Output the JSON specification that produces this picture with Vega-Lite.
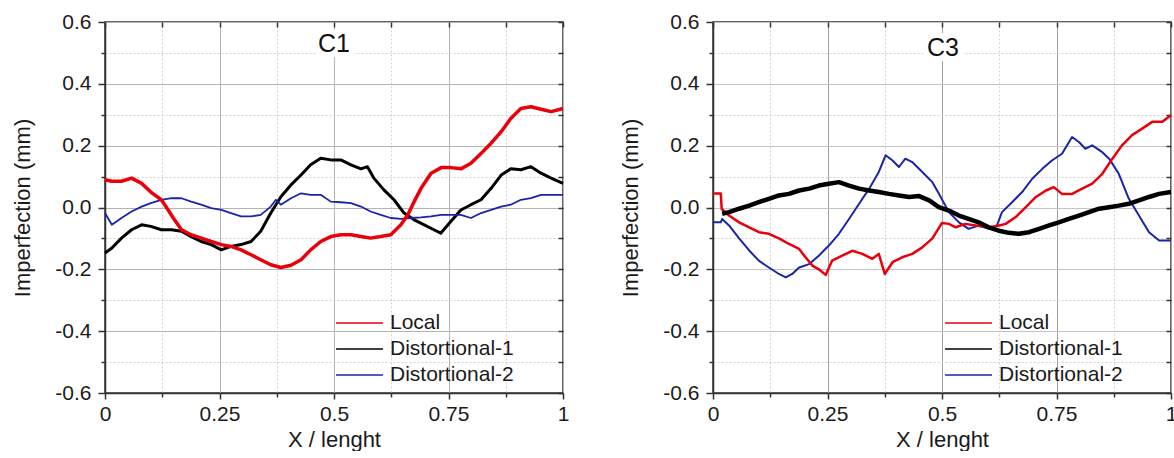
{
  "$schema": "https://vega.github.io/schema/vega-lite/v6.json",
  "background": "white",
  "padding": {"left": 11, "top": 10, "right": 0, "bottom": 0},
  "spacing": 150,
  "bounds": "flush",
  "datasets": {
    "c1": [
      {"x": 0, "y": 0.09, "s": "Local"}, {"x": 0.015, "y": 0.085, "s": "Local"}, {"x": 0.036, "y": 0.085, "s": "Local"}, {"x": 0.058, "y": 0.095, "s": "Local"}, {"x": 0.08, "y": 0.078, "s": "Local"}, {"x": 0.1, "y": 0.05, "s": "Local"}, {"x": 0.123, "y": 0.025, "s": "Local"}, {"x": 0.138, "y": -0.008, "s": "Local"}, {"x": 0.149, "y": -0.034, "s": "Local"}, {"x": 0.167, "y": -0.072, "s": "Local"}, {"x": 0.188, "y": -0.088, "s": "Local"}, {"x": 0.21, "y": -0.099, "s": "Local"}, {"x": 0.232, "y": -0.11, "s": "Local"}, {"x": 0.254, "y": -0.12, "s": "Local"}, {"x": 0.275, "y": -0.126, "s": "Local"}, {"x": 0.297, "y": -0.137, "s": "Local"}, {"x": 0.319, "y": -0.153, "s": "Local"}, {"x": 0.34, "y": -0.169, "s": "Local"}, {"x": 0.362, "y": -0.185, "s": "Local"}, {"x": 0.384, "y": -0.194, "s": "Local"}, {"x": 0.406, "y": -0.187, "s": "Local"}, {"x": 0.428, "y": -0.169, "s": "Local"}, {"x": 0.449, "y": -0.137, "s": "Local"}, {"x": 0.471, "y": -0.11, "s": "Local"}, {"x": 0.493, "y": -0.094, "s": "Local"}, {"x": 0.515, "y": -0.088, "s": "Local"}, {"x": 0.537, "y": -0.088, "s": "Local"}, {"x": 0.559, "y": -0.094, "s": "Local"}, {"x": 0.58, "y": -0.099, "s": "Local"}, {"x": 0.602, "y": -0.094, "s": "Local"}, {"x": 0.624, "y": -0.088, "s": "Local"}, {"x": 0.646, "y": -0.056, "s": "Local"}, {"x": 0.661, "y": -0.024, "s": "Local"}, {"x": 0.675, "y": 0.019, "s": "Local"}, {"x": 0.69, "y": 0.062, "s": "Local"}, {"x": 0.712, "y": 0.111, "s": "Local"}, {"x": 0.734, "y": 0.129, "s": "Local"}, {"x": 0.755, "y": 0.129, "s": "Local"}, {"x": 0.777, "y": 0.125, "s": "Local"}, {"x": 0.799, "y": 0.143, "s": "Local"}, {"x": 0.821, "y": 0.175, "s": "Local"}, {"x": 0.843, "y": 0.208, "s": "Local"}, {"x": 0.865, "y": 0.245, "s": "Local"}, {"x": 0.886, "y": 0.288, "s": "Local"}, {"x": 0.908, "y": 0.32, "s": "Local"}, {"x": 0.93, "y": 0.326, "s": "Local"}, {"x": 0.952, "y": 0.318, "s": "Local"}, {"x": 0.974, "y": 0.31, "s": "Local"}, {"x": 1.0, "y": 0.32, "s": "Local"},
      {"x": 0, "y": -0.147, "s": "Distortional-1"}, {"x": 0.015, "y": -0.131, "s": "Distortional-1"}, {"x": 0.036, "y": -0.099, "s": "Distortional-1"}, {"x": 0.058, "y": -0.072, "s": "Distortional-1"}, {"x": 0.08, "y": -0.056, "s": "Distortional-1"}, {"x": 0.1, "y": -0.061, "s": "Distortional-1"}, {"x": 0.123, "y": -0.072, "s": "Distortional-1"}, {"x": 0.145, "y": -0.072, "s": "Distortional-1"}, {"x": 0.167, "y": -0.077, "s": "Distortional-1"}, {"x": 0.188, "y": -0.094, "s": "Distortional-1"}, {"x": 0.21, "y": -0.11, "s": "Distortional-1"}, {"x": 0.232, "y": -0.12, "s": "Distortional-1"}, {"x": 0.254, "y": -0.137, "s": "Distortional-1"}, {"x": 0.275, "y": -0.126, "s": "Distortional-1"}, {"x": 0.297, "y": -0.12, "s": "Distortional-1"}, {"x": 0.319, "y": -0.11, "s": "Distortional-1"}, {"x": 0.34, "y": -0.077, "s": "Distortional-1"}, {"x": 0.362, "y": -0.018, "s": "Distortional-1"}, {"x": 0.384, "y": 0.035, "s": "Distortional-1"}, {"x": 0.406, "y": 0.073, "s": "Distortional-1"}, {"x": 0.428, "y": 0.105, "s": "Distortional-1"}, {"x": 0.449, "y": 0.138, "s": "Distortional-1"}, {"x": 0.471, "y": 0.159, "s": "Distortional-1"}, {"x": 0.493, "y": 0.154, "s": "Distortional-1"}, {"x": 0.515, "y": 0.154, "s": "Distortional-1"}, {"x": 0.537, "y": 0.138, "s": "Distortional-1"}, {"x": 0.559, "y": 0.125, "s": "Distortional-1"}, {"x": 0.573, "y": 0.132, "s": "Distortional-1"}, {"x": 0.587, "y": 0.095, "s": "Distortional-1"}, {"x": 0.609, "y": 0.057, "s": "Distortional-1"}, {"x": 0.631, "y": 0.025, "s": "Distortional-1"}, {"x": 0.653, "y": -0.018, "s": "Distortional-1"}, {"x": 0.675, "y": -0.04, "s": "Distortional-1"}, {"x": 0.697, "y": -0.056, "s": "Distortional-1"}, {"x": 0.718, "y": -0.072, "s": "Distortional-1"}, {"x": 0.733, "y": -0.083, "s": "Distortional-1"}, {"x": 0.755, "y": -0.045, "s": "Distortional-1"}, {"x": 0.777, "y": -0.008, "s": "Distortional-1"}, {"x": 0.799, "y": 0.009, "s": "Distortional-1"}, {"x": 0.821, "y": 0.025, "s": "Distortional-1"}, {"x": 0.843, "y": 0.062, "s": "Distortional-1"}, {"x": 0.865, "y": 0.105, "s": "Distortional-1"}, {"x": 0.886, "y": 0.125, "s": "Distortional-1"}, {"x": 0.908, "y": 0.122, "s": "Distortional-1"}, {"x": 0.93, "y": 0.132, "s": "Distortional-1"}, {"x": 0.952, "y": 0.111, "s": "Distortional-1"}, {"x": 0.974, "y": 0.095, "s": "Distortional-1"}, {"x": 1.0, "y": 0.078, "s": "Distortional-1"},
      {"x": 0, "y": -0.018, "s": "Distortional-2"}, {"x": 0.015, "y": -0.056, "s": "Distortional-2"}, {"x": 0.036, "y": -0.034, "s": "Distortional-2"}, {"x": 0.058, "y": -0.013, "s": "Distortional-2"}, {"x": 0.08, "y": 0.003, "s": "Distortional-2"}, {"x": 0.1, "y": 0.014, "s": "Distortional-2"}, {"x": 0.123, "y": 0.025, "s": "Distortional-2"}, {"x": 0.145, "y": 0.03, "s": "Distortional-2"}, {"x": 0.167, "y": 0.03, "s": "Distortional-2"}, {"x": 0.188, "y": 0.019, "s": "Distortional-2"}, {"x": 0.21, "y": 0.009, "s": "Distortional-2"}, {"x": 0.232, "y": -0.002, "s": "Distortional-2"}, {"x": 0.254, "y": -0.008, "s": "Distortional-2"}, {"x": 0.275, "y": -0.018, "s": "Distortional-2"}, {"x": 0.297, "y": -0.029, "s": "Distortional-2"}, {"x": 0.319, "y": -0.029, "s": "Distortional-2"}, {"x": 0.34, "y": -0.024, "s": "Distortional-2"}, {"x": 0.362, "y": 0.003, "s": "Distortional-2"}, {"x": 0.373, "y": 0.025, "s": "Distortional-2"}, {"x": 0.384, "y": 0.009, "s": "Distortional-2"}, {"x": 0.406, "y": 0.03, "s": "Distortional-2"}, {"x": 0.428, "y": 0.046, "s": "Distortional-2"}, {"x": 0.449, "y": 0.041, "s": "Distortional-2"}, {"x": 0.471, "y": 0.041, "s": "Distortional-2"}, {"x": 0.493, "y": 0.019, "s": "Distortional-2"}, {"x": 0.515, "y": 0.017, "s": "Distortional-2"}, {"x": 0.537, "y": 0.014, "s": "Distortional-2"}, {"x": 0.559, "y": 0.003, "s": "Distortional-2"}, {"x": 0.58, "y": -0.013, "s": "Distortional-2"}, {"x": 0.602, "y": -0.024, "s": "Distortional-2"}, {"x": 0.624, "y": -0.034, "s": "Distortional-2"}, {"x": 0.646, "y": -0.037, "s": "Distortional-2"}, {"x": 0.668, "y": -0.034, "s": "Distortional-2"}, {"x": 0.69, "y": -0.032, "s": "Distortional-2"}, {"x": 0.712, "y": -0.029, "s": "Distortional-2"}, {"x": 0.734, "y": -0.024, "s": "Distortional-2"}, {"x": 0.755, "y": -0.024, "s": "Distortional-2"}, {"x": 0.777, "y": -0.024, "s": "Distortional-2"}, {"x": 0.799, "y": -0.034, "s": "Distortional-2"}, {"x": 0.821, "y": -0.018, "s": "Distortional-2"}, {"x": 0.843, "y": -0.008, "s": "Distortional-2"}, {"x": 0.865, "y": 0.003, "s": "Distortional-2"}, {"x": 0.886, "y": 0.009, "s": "Distortional-2"}, {"x": 0.908, "y": 0.025, "s": "Distortional-2"}, {"x": 0.93, "y": 0.03, "s": "Distortional-2"}, {"x": 0.952, "y": 0.041, "s": "Distortional-2"}, {"x": 0.974, "y": 0.041, "s": "Distortional-2"}, {"x": 1.0, "y": 0.041, "s": "Distortional-2"}
    ],
    "c3": [
      {"x": 0, "y": 0.045, "s": "Local"}, {"x": 0.017, "y": 0.045, "s": "Local"}, {"x": 0.019, "y": -0.005, "s": "Local"}, {"x": 0.035, "y": -0.026, "s": "Local"}, {"x": 0.057, "y": -0.048, "s": "Local"}, {"x": 0.079, "y": -0.064, "s": "Local"}, {"x": 0.1, "y": -0.08, "s": "Local"}, {"x": 0.122, "y": -0.085, "s": "Local"}, {"x": 0.144, "y": -0.1, "s": "Local"}, {"x": 0.166, "y": -0.118, "s": "Local"}, {"x": 0.188, "y": -0.134, "s": "Local"}, {"x": 0.202, "y": -0.161, "s": "Local"}, {"x": 0.217, "y": -0.188, "s": "Local"}, {"x": 0.231, "y": -0.2, "s": "Local"}, {"x": 0.246, "y": -0.218, "s": "Local"}, {"x": 0.26, "y": -0.172, "s": "Local"}, {"x": 0.282, "y": -0.156, "s": "Local"}, {"x": 0.304, "y": -0.14, "s": "Local"}, {"x": 0.326, "y": -0.15, "s": "Local"}, {"x": 0.348, "y": -0.166, "s": "Local"}, {"x": 0.362, "y": -0.15, "s": "Local"}, {"x": 0.375, "y": -0.215, "s": "Local"}, {"x": 0.392, "y": -0.177, "s": "Local"}, {"x": 0.413, "y": -0.161, "s": "Local"}, {"x": 0.435, "y": -0.15, "s": "Local"}, {"x": 0.457, "y": -0.129, "s": "Local"}, {"x": 0.479, "y": -0.1, "s": "Local"}, {"x": 0.5, "y": -0.05, "s": "Local"}, {"x": 0.515, "y": -0.053, "s": "Local"}, {"x": 0.53, "y": -0.064, "s": "Local"}, {"x": 0.551, "y": -0.053, "s": "Local"}, {"x": 0.573, "y": -0.058, "s": "Local"}, {"x": 0.602, "y": -0.064, "s": "Local"}, {"x": 0.62, "y": -0.06, "s": "Local"}, {"x": 0.639, "y": -0.053, "s": "Local"}, {"x": 0.661, "y": -0.031, "s": "Local"}, {"x": 0.683, "y": 0.001, "s": "Local"}, {"x": 0.705, "y": 0.034, "s": "Local"}, {"x": 0.727, "y": 0.055, "s": "Local"}, {"x": 0.744, "y": 0.066, "s": "Local"}, {"x": 0.762, "y": 0.044, "s": "Local"}, {"x": 0.784, "y": 0.044, "s": "Local"}, {"x": 0.806, "y": 0.061, "s": "Local"}, {"x": 0.828, "y": 0.077, "s": "Local"}, {"x": 0.85, "y": 0.109, "s": "Local"}, {"x": 0.872, "y": 0.158, "s": "Local"}, {"x": 0.893, "y": 0.201, "s": "Local"}, {"x": 0.915, "y": 0.234, "s": "Local"}, {"x": 0.937, "y": 0.255, "s": "Local"}, {"x": 0.959, "y": 0.277, "s": "Local"}, {"x": 0.981, "y": 0.277, "s": "Local"}, {"x": 1.0, "y": 0.298, "s": "Local"},
      {"x": 0.02, "y": -0.02, "s": "Distortional-1"}, {"x": 0.035, "y": -0.015, "s": "Distortional-1"}, {"x": 0.057, "y": -0.004, "s": "Distortional-1"}, {"x": 0.079, "y": 0.006, "s": "Distortional-1"}, {"x": 0.1, "y": 0.017, "s": "Distortional-1"}, {"x": 0.122, "y": 0.028, "s": "Distortional-1"}, {"x": 0.144, "y": 0.039, "s": "Distortional-1"}, {"x": 0.166, "y": 0.044, "s": "Distortional-1"}, {"x": 0.188, "y": 0.055, "s": "Distortional-1"}, {"x": 0.21, "y": 0.061, "s": "Distortional-1"}, {"x": 0.231, "y": 0.071, "s": "Distortional-1"}, {"x": 0.253, "y": 0.077, "s": "Distortional-1"}, {"x": 0.275, "y": 0.082, "s": "Distortional-1"}, {"x": 0.297, "y": 0.071, "s": "Distortional-1"}, {"x": 0.319, "y": 0.061, "s": "Distortional-1"}, {"x": 0.341, "y": 0.055, "s": "Distortional-1"}, {"x": 0.362, "y": 0.05, "s": "Distortional-1"}, {"x": 0.384, "y": 0.044, "s": "Distortional-1"}, {"x": 0.406, "y": 0.039, "s": "Distortional-1"}, {"x": 0.428, "y": 0.034, "s": "Distortional-1"}, {"x": 0.45, "y": 0.037, "s": "Distortional-1"}, {"x": 0.472, "y": 0.023, "s": "Distortional-1"}, {"x": 0.493, "y": 0.001, "s": "Distortional-1"}, {"x": 0.515, "y": -0.01, "s": "Distortional-1"}, {"x": 0.537, "y": -0.026, "s": "Distortional-1"}, {"x": 0.558, "y": -0.037, "s": "Distortional-1"}, {"x": 0.58, "y": -0.048, "s": "Distortional-1"}, {"x": 0.602, "y": -0.064, "s": "Distortional-1"}, {"x": 0.624, "y": -0.075, "s": "Distortional-1"}, {"x": 0.646, "y": -0.082, "s": "Distortional-1"}, {"x": 0.668, "y": -0.085, "s": "Distortional-1"}, {"x": 0.69, "y": -0.08, "s": "Distortional-1"}, {"x": 0.712, "y": -0.069, "s": "Distortional-1"}, {"x": 0.734, "y": -0.058, "s": "Distortional-1"}, {"x": 0.755, "y": -0.048, "s": "Distortional-1"}, {"x": 0.777, "y": -0.037, "s": "Distortional-1"}, {"x": 0.799, "y": -0.026, "s": "Distortional-1"}, {"x": 0.821, "y": -0.015, "s": "Distortional-1"}, {"x": 0.843, "y": -0.004, "s": "Distortional-1"}, {"x": 0.865, "y": 0.001, "s": "Distortional-1"}, {"x": 0.886, "y": 0.006, "s": "Distortional-1"}, {"x": 0.908, "y": 0.012, "s": "Distortional-1"}, {"x": 0.93, "y": 0.023, "s": "Distortional-1"}, {"x": 0.952, "y": 0.034, "s": "Distortional-1"}, {"x": 0.974, "y": 0.044, "s": "Distortional-1"}, {"x": 1.0, "y": 0.05, "s": "Distortional-1"},
      {"x": 0, "y": -0.048, "s": "Distortional-2"}, {"x": 0.017, "y": -0.048, "s": "Distortional-2"}, {"x": 0.02, "y": -0.037, "s": "Distortional-2"}, {"x": 0.035, "y": -0.058, "s": "Distortional-2"}, {"x": 0.057, "y": -0.1, "s": "Distortional-2"}, {"x": 0.079, "y": -0.139, "s": "Distortional-2"}, {"x": 0.1, "y": -0.172, "s": "Distortional-2"}, {"x": 0.122, "y": -0.194, "s": "Distortional-2"}, {"x": 0.144, "y": -0.215, "s": "Distortional-2"}, {"x": 0.159, "y": -0.226, "s": "Distortional-2"}, {"x": 0.173, "y": -0.215, "s": "Distortional-2"}, {"x": 0.188, "y": -0.194, "s": "Distortional-2"}, {"x": 0.21, "y": -0.183, "s": "Distortional-2"}, {"x": 0.231, "y": -0.156, "s": "Distortional-2"}, {"x": 0.253, "y": -0.123, "s": "Distortional-2"}, {"x": 0.275, "y": -0.085, "s": "Distortional-2"}, {"x": 0.297, "y": -0.037, "s": "Distortional-2"}, {"x": 0.319, "y": 0.012, "s": "Distortional-2"}, {"x": 0.341, "y": 0.061, "s": "Distortional-2"}, {"x": 0.362, "y": 0.115, "s": "Distortional-2"}, {"x": 0.377, "y": 0.169, "s": "Distortional-2"}, {"x": 0.392, "y": 0.152, "s": "Distortional-2"}, {"x": 0.406, "y": 0.131, "s": "Distortional-2"}, {"x": 0.42, "y": 0.158, "s": "Distortional-2"}, {"x": 0.435, "y": 0.147, "s": "Distortional-2"}, {"x": 0.457, "y": 0.115, "s": "Distortional-2"}, {"x": 0.479, "y": 0.082, "s": "Distortional-2"}, {"x": 0.493, "y": 0.045, "s": "Distortional-2"}, {"x": 0.515, "y": -0.015, "s": "Distortional-2"}, {"x": 0.537, "y": -0.048, "s": "Distortional-2"}, {"x": 0.558, "y": -0.069, "s": "Distortional-2"}, {"x": 0.58, "y": -0.058, "s": "Distortional-2"}, {"x": 0.602, "y": -0.069, "s": "Distortional-2"}, {"x": 0.62, "y": -0.058, "s": "Distortional-2"}, {"x": 0.631, "y": -0.015, "s": "Distortional-2"}, {"x": 0.653, "y": 0.017, "s": "Distortional-2"}, {"x": 0.675, "y": 0.05, "s": "Distortional-2"}, {"x": 0.697, "y": 0.093, "s": "Distortional-2"}, {"x": 0.719, "y": 0.125, "s": "Distortional-2"}, {"x": 0.74, "y": 0.152, "s": "Distortional-2"}, {"x": 0.762, "y": 0.174, "s": "Distortional-2"}, {"x": 0.784, "y": 0.228, "s": "Distortional-2"}, {"x": 0.799, "y": 0.212, "s": "Distortional-2"}, {"x": 0.813, "y": 0.19, "s": "Distortional-2"}, {"x": 0.828, "y": 0.201, "s": "Distortional-2"}, {"x": 0.85, "y": 0.179, "s": "Distortional-2"}, {"x": 0.865, "y": 0.158, "s": "Distortional-2"}, {"x": 0.886, "y": 0.109, "s": "Distortional-2"}, {"x": 0.908, "y": 0.028, "s": "Distortional-2"}, {"x": 0.93, "y": -0.026, "s": "Distortional-2"}, {"x": 0.952, "y": -0.08, "s": "Distortional-2"}, {"x": 0.974, "y": -0.107, "s": "Distortional-2"}, {"x": 1.0, "y": -0.107, "s": "Distortional-2"}
    ],
    "t1": [{"x": 0.5, "y": 0.53, "label": "C1"}],
    "t3": [{"x": 0.502, "y": 0.515, "label": "C3"}]
  },
  "hconcat": [
    {
      "width": 458,
      "height": 371,
      "layer": [
        {
          "data": {"name": "c1"},
          "transform": [{"filter": "datum.s == 'Distortional-1'"}],
          "mark": {"type": "line", "strokeJoin": "round", "strokeWidth": 3},
          "encoding": {
            "x": {"field": "x", "type": "quantitative", "scale": {"domain": [0, 1], "nice": false, "zero": false},
              "axis": {"values": [0, 0.125, 0.25, 0.375, 0.5, 0.625, 0.75, 0.875, 1], "labelExpr": "round(datum.value*8) % 2 == 1 ? '' : toString(datum.value)", "title": "X / lenght", "grid": true,
                "gridDash": {"condition": {"test": "round(datum.value*8) % 2 == 1", "value": [2, 2]}, "value": []},
                "gridColor": {"condition": {"test": "round(datum.value*8) % 2 == 1", "value": "#d2d2d2"}, "value": "#b4b4b4"},
                "tickSize": {"condition": {"test": "round(datum.value*8) % 2 == 1", "value": 4}, "value": 6},
                "labelPadding": 4, "titlePadding": 5}},
            "y": {"field": "y", "type": "quantitative", "scale": {"domain": [-0.6, 0.6], "nice": false, "zero": false},
              "axis": {"values": [-0.6, -0.5, -0.4, -0.3, -0.2, -0.1, 0, 0.1, 0.2, 0.3, 0.4, 0.5, 0.6], "labelExpr": "abs(round(datum.value*10)) % 2 == 1 ? '' : (datum.value == 0 ? '0.0' : toString(datum.value))", "title": "Imperfection (mm)", "grid": true,
                "gridDash": {"condition": {"test": "abs(round(datum.value*10)) % 2 == 1", "value": [2, 2]}, "value": []},
                "gridColor": {"condition": {"test": "abs(round(datum.value*10)) % 2 == 1", "value": "#d2d2d2"}, "value": "#b4b4b4"},
                "tickSize": {"condition": {"test": "abs(round(datum.value*10)) % 2 == 1", "value": 4}, "value": 7},
                "labelPadding": 7, "titlePadding": 20}},
            "color": {"field": "s", "type": "nominal", "scale": {"domain": ["Local", "Distortional-1", "Distortional-2"], "range": ["#e8000b", "#000000", "#1a24a8"]},
              "legend": {"orient": "none", "legendX": 230, "legendY": 288, "title": null, "symbolType": "stroke", "symbolSize": 2200, "symbolStrokeWidth": 1.5, "labelFontSize": 21, "labelOffset": 6, "rowPadding": 0, "clipHeight": 26, "padding": 0, "encode": {"symbols": {"update": {"strokeWidth": {"value": 1.5}}}}}}
          }
        },
        {
          "data": {"name": "c1"},
          "transform": [{"filter": "datum.s == 'Distortional-2'"}],
          "mark": {"type": "line", "strokeJoin": "round", "strokeWidth": 1.8},
          "encoding": {
            "x": {"field": "x", "type": "quantitative", "axis": null},
            "y": {"field": "y", "type": "quantitative", "axis": null},
            "color": {"field": "s", "type": "nominal", "scale": {"domain": ["Local", "Distortional-1", "Distortional-2"], "range": ["#e8000b", "#000000", "#1a24a8"]},
              "legend": {"orient": "none", "legendX": 230, "legendY": 288, "title": null, "symbolType": "stroke", "symbolSize": 2200, "symbolStrokeWidth": 1.5, "labelFontSize": 21, "labelOffset": 6, "rowPadding": 0, "clipHeight": 26, "padding": 0, "encode": {"symbols": {"update": {"strokeWidth": {"value": 1.5}}}}}}
          }
        },
        {
          "data": {"name": "c1"},
          "transform": [{"filter": "datum.s == 'Local'"}],
          "mark": {"type": "line", "strokeJoin": "round", "strokeWidth": 3.5},
          "encoding": {
            "x": {"field": "x", "type": "quantitative", "axis": null},
            "y": {"field": "y", "type": "quantitative", "axis": null},
            "color": {"field": "s", "type": "nominal", "scale": {"domain": ["Local", "Distortional-1", "Distortional-2"], "range": ["#e8000b", "#000000", "#1a24a8"]},
              "legend": {"orient": "none", "legendX": 230, "legendY": 288, "title": null, "symbolType": "stroke", "symbolSize": 2200, "symbolStrokeWidth": 1.5, "labelFontSize": 21, "labelOffset": 6, "rowPadding": 0, "clipHeight": 26, "padding": 0, "encode": {"symbols": {"update": {"strokeWidth": {"value": 1.5}}}}}}
          }
        },
        {
          "data": {"name": "t1"},
          "mark": {"type": "text", "fontSize": 25, "stroke": "white", "strokeWidth": 12, "strokeJoin": "round", "fill": "white", "baseline": "middle", "align": "center"},
          "encoding": {
            "x": {"field": "x", "type": "quantitative", "axis": {"orient": "top", "values": [0, 0.125, 0.25, 0.375, 0.5, 0.625, 0.75, 0.875, 1], "labels": false, "title": null, "grid": false, "domain": false, "tickSize": -5}},
            "y": {"field": "y", "type": "quantitative", "axis": {"orient": "right", "values": [-0.6, -0.5, -0.4, -0.3, -0.2, -0.1, 0, 0.1, 0.2, 0.3, 0.4, 0.5, 0.6], "labels": false, "title": null, "grid": false, "domain": false, "tickSize": -5}},
            "text": {"field": "label"}
          }
        },
        {
          "data": {"name": "t1"},
          "mark": {"type": "text", "fontSize": 25, "fill": "#111", "baseline": "middle", "align": "center"},
          "encoding": {
            "x": {"field": "x", "type": "quantitative", "axis": null},
            "y": {"field": "y", "type": "quantitative", "axis": null},
            "text": {"field": "label"}
          }
        }
      ],
      "resolve": {"axis": {"x": "independent", "y": "independent"}}
    },
    {
      "width": 458,
      "height": 371,
      "layer": [
        {
          "data": {"name": "c3"},
          "transform": [{"filter": "datum.s == 'Distortional-2'"}],
          "mark": {"type": "line", "strokeJoin": "round", "strokeWidth": 2},
          "encoding": {
            "x": {"field": "x", "type": "quantitative", "scale": {"domain": [0, 1], "nice": false, "zero": false},
              "axis": {"values": [0, 0.125, 0.25, 0.375, 0.5, 0.625, 0.75, 0.875, 1], "labelExpr": "round(datum.value*8) % 2 == 1 ? '' : toString(datum.value)", "title": "X / lenght", "grid": true,
                "gridDash": {"condition": {"test": "round(datum.value*8) % 2 == 1", "value": [2, 2]}, "value": []},
                "gridColor": {"condition": {"test": "round(datum.value*8) % 2 == 1", "value": "#d2d2d2"}, "value": "#a0a0a0"},
                "tickSize": {"condition": {"test": "round(datum.value*8) % 2 == 1", "value": 4}, "value": 6},
                "labelPadding": 4, "titlePadding": 5}},
            "y": {"field": "y", "type": "quantitative", "scale": {"domain": [-0.6, 0.6], "nice": false, "zero": false},
              "axis": {"values": [-0.6, -0.5, -0.4, -0.3, -0.2, -0.1, 0, 0.1, 0.2, 0.3, 0.4, 0.5, 0.6], "labelExpr": "abs(round(datum.value*10)) % 2 == 1 ? '' : (datum.value == 0 ? '0.0' : toString(datum.value))", "title": "Imperfection (mm)", "grid": true,
                "gridDash": {"condition": {"test": "abs(round(datum.value*10)) % 2 == 1", "value": [2, 2]}, "value": []},
                "gridColor": {"condition": {"test": "abs(round(datum.value*10)) % 2 == 1", "value": "#d2d2d2"}, "value": "#c4c4c4"},
                "tickSize": {"condition": {"test": "abs(round(datum.value*10)) % 2 == 1", "value": 4}, "value": 7},
                "labelPadding": 7, "titlePadding": 20}},
            "color": {"field": "s", "type": "nominal", "scale": {"domain": ["Local", "Distortional-1", "Distortional-2"], "range": ["#e8000b", "#000000", "#1a24a8"]},
              "legend": {"orient": "none", "legendX": 231, "legendY": 288, "title": null, "symbolType": "stroke", "symbolSize": 2200, "symbolStrokeWidth": 1.5, "labelFontSize": 21, "labelOffset": 6, "rowPadding": 0, "clipHeight": 26, "padding": 0, "encode": {"symbols": {"update": {"strokeWidth": {"value": 1.5}}}}}}
          }
        },
        {
          "data": {"name": "c3"},
          "transform": [{"filter": "datum.s == 'Local'"}],
          "mark": {"type": "line", "strokeJoin": "round", "strokeWidth": 2.5},
          "encoding": {
            "x": {"field": "x", "type": "quantitative", "axis": null},
            "y": {"field": "y", "type": "quantitative", "axis": null},
            "color": {"field": "s", "type": "nominal", "scale": {"domain": ["Local", "Distortional-1", "Distortional-2"], "range": ["#e8000b", "#000000", "#1a24a8"]},
              "legend": {"orient": "none", "legendX": 231, "legendY": 288, "title": null, "symbolType": "stroke", "symbolSize": 2200, "symbolStrokeWidth": 1.5, "labelFontSize": 21, "labelOffset": 6, "rowPadding": 0, "clipHeight": 26, "padding": 0, "encode": {"symbols": {"update": {"strokeWidth": {"value": 1.5}}}}}}
          }
        },
        {
          "data": {"name": "c3"},
          "transform": [{"filter": "datum.s == 'Distortional-1'"}],
          "mark": {"type": "line", "strokeJoin": "round", "strokeWidth": 4.5},
          "encoding": {
            "x": {"field": "x", "type": "quantitative", "axis": null},
            "y": {"field": "y", "type": "quantitative", "axis": null},
            "color": {"field": "s", "type": "nominal", "scale": {"domain": ["Local", "Distortional-1", "Distortional-2"], "range": ["#e8000b", "#000000", "#1a24a8"]},
              "legend": {"orient": "none", "legendX": 231, "legendY": 288, "title": null, "symbolType": "stroke", "symbolSize": 2200, "symbolStrokeWidth": 1.5, "labelFontSize": 21, "labelOffset": 6, "rowPadding": 0, "clipHeight": 26, "padding": 0, "encode": {"symbols": {"update": {"strokeWidth": {"value": 1.5}}}}}}
          }
        },
        {
          "data": {"name": "t3"},
          "mark": {"type": "text", "fontSize": 25, "stroke": "white", "strokeWidth": 12, "strokeJoin": "round", "fill": "white", "baseline": "middle", "align": "center"},
          "encoding": {
            "x": {"field": "x", "type": "quantitative", "axis": {"orient": "top", "values": [0, 0.125, 0.25, 0.375, 0.5, 0.625, 0.75, 0.875, 1], "labels": false, "title": null, "grid": false, "domain": false, "tickSize": -5}},
            "y": {"field": "y", "type": "quantitative", "axis": {"orient": "right", "values": [-0.6, -0.5, -0.4, -0.3, -0.2, -0.1, 0, 0.1, 0.2, 0.3, 0.4, 0.5, 0.6], "labels": false, "title": null, "grid": false, "domain": false, "tickSize": -5}},
            "text": {"field": "label"}
          }
        },
        {
          "data": {"name": "t3"},
          "mark": {"type": "text", "fontSize": 25, "fill": "#111", "baseline": "middle", "align": "center"},
          "encoding": {
            "x": {"field": "x", "type": "quantitative", "axis": null},
            "y": {"field": "y", "type": "quantitative", "axis": null},
            "text": {"field": "label"}
          }
        }
      ],
      "resolve": {"axis": {"x": "independent", "y": "independent"}}
    }
  ],
  "resolve": {"scale": {"color": "independent"}, "legend": {"color": "independent"}},
  "config": {
    "font": "Liberation Sans",
    "view": {"stroke": "#333", "strokeWidth": 1.5},
    "axis": {"labelFont": "Liberation Sans", "titleFont": "Liberation Sans", "labelFontSize": 21, "titleFontSize": 22, "titleFontWeight": "normal", "labelColor": "#1a1a1a", "titleColor": "#1a1a1a", "domainColor": "#333", "domainWidth": 1.5, "tickColor": "#333", "tickWidth": 1.5, "labelFlush": false, "labelOverlap": false},
    "legend": {"labelFont": "Liberation Sans", "labelColor": "#1a1a1a"}
  }
}
